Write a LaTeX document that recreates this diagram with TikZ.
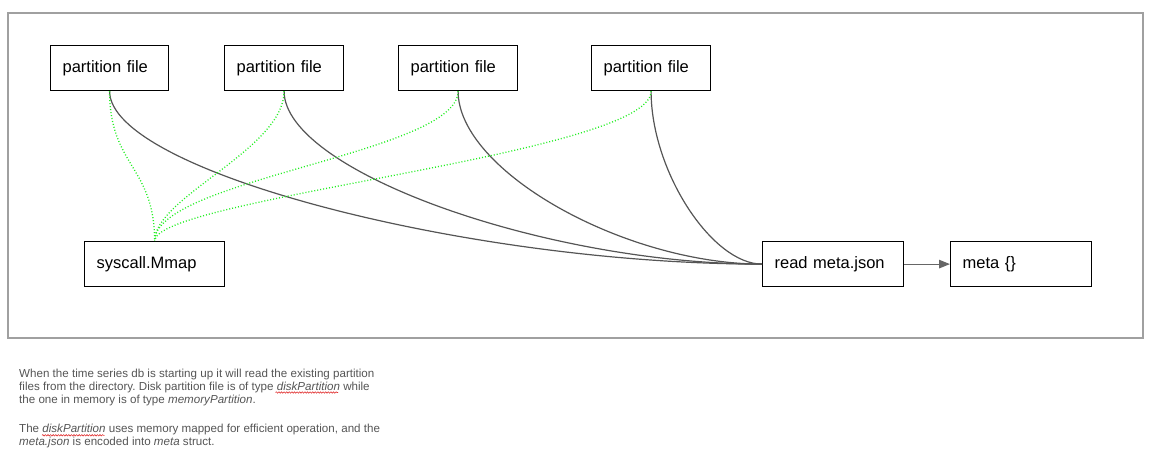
\documentclass[tikz,border=0pt]{standalone}
\usepackage{fontspec}
\setmainfont{Liberation Sans}
\usetikzlibrary{arrows.meta,decorations.pathmorphing}
\definecolor{framegray}{HTML}{A0A0A0}
\definecolor{linegray}{HTML}{555555}
\definecolor{arrowgray}{HTML}{666666}
\definecolor{textgray}{HTML}{555555}
\definecolor{dotgreen}{HTML}{22EE22}
\definecolor{spellred}{HTML}{E03030}
\frenchspacing
\begin{document}
\begin{tikzpicture}[x=1pt,y=-1pt,
  box/.style={draw=black, line width=1.2pt, anchor=north west, minimum height=45pt,
    inner xsep=12pt, inner ysep=0pt, align=left, font=\fontsize{16.5}{20}\selectfont},
  link/.style={draw=linegray, line width=1.2pt},
  mm/.style={draw=dotgreen, line width=1.3pt, dash pattern=on 1pt off 2pt},
  note/.style={anchor=base west, inner sep=0pt, align=left, text=textgray,
    font=\fontsize{11.6}{13}\selectfont},
  squig/.style={draw=spellred, line width=0.6pt, decorate,
    decoration={snake, amplitude=0.7pt, segment length=2.6pt}}]
\useasboundingbox (0,0) rectangle (1152,455);
\draw[framegray, line width=2pt] (7.5,13) rectangle (1142.5,337.5);

\node[box, text width=94pt] (pf1) at (50,45) {partition file};
\node[box, text width=95pt] (pf2) at (224,45) {partition file};
\node[box, text width=95pt] (pf3) at (398,45) {partition file};
\node[box, text width=95pt] (pf4) at (591,45) {partition file};
\node[box, text width=116pt] (mmap) at (84,241) {syscall.Mmap};
\node[box, text width=117pt] (read) at (762,241) {read meta.json};
\node[box, text width=117pt] (meta) at (950,241) {meta \{\}};

\draw[link] (pf1.south) .. controls +(0,80) and +(-293,0) .. (read.west);
\draw[link] (pf2.south) .. controls +(0,80) and +(-216,0) .. (read.west);
\draw[link] (pf3.south) .. controls +(0,80) and +(-137,0) .. (read.west);
\draw[link] (pf4.south) .. controls +(0,80) and +(-50,0) .. (read.west);

\draw[mm] (pf1.south) .. controls +(0,75) and +(0,-75) .. (mmap.north);
\draw[mm] (pf2.south) .. controls +(0,58) and +(0,-44) .. (mmap.north);
\draw[mm] (pf3.south) .. controls +(0,62) and +(0,-62) .. (mmap.north);
\draw[mm] (pf4.south) .. controls +(0,63) and +(0,-43) .. (mmap.north);

\draw[draw=arrowgray, line width=1.2pt, -{Triangle[length=11pt,width=8.5pt]}] (read.east) -- (meta.west);

\node[note] (n1) at (19,403) {When the time series db is starting up it will read the existing partition\\
files from the directory. Disk partition file is of type \emph{diskPartition} while\\
the one in memory is of type \emph{memoryPartition}.};
\node[note] (n2) at (19,445.7) {The \emph{diskPartition} uses memory mapped for efficient operation, and the\\
\emph{meta.json} is encoded into \emph{meta} struct.};
\draw[squig] (275.5,392.5) -- (338,392.5);
\draw[squig] (42,435.3) -- (104.5,435.3);
\end{tikzpicture}
\end{document}
